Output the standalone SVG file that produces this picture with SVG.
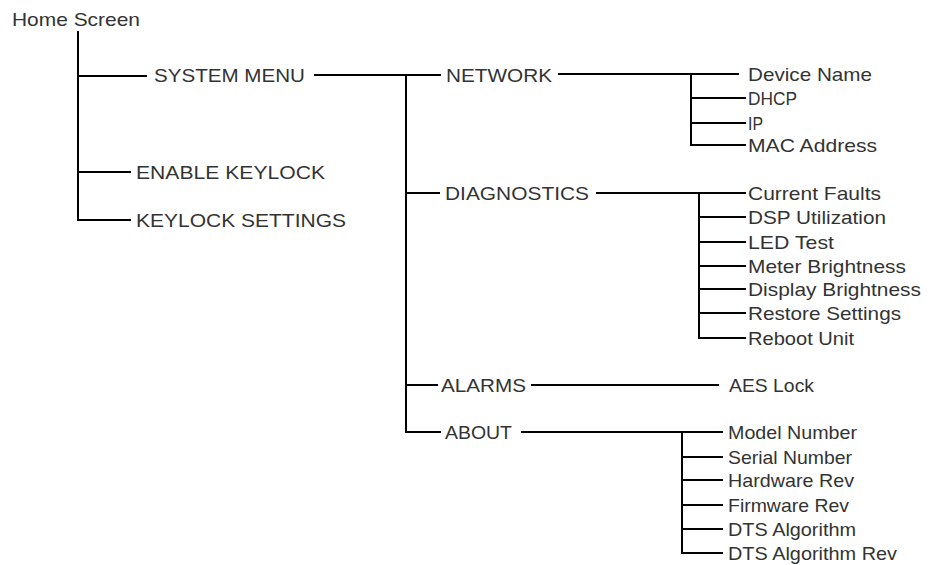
<svg xmlns="http://www.w3.org/2000/svg" width="932" height="565" viewBox="0 0 932 565">
<style>
text{font-family:"Liberation Sans",Arial,sans-serif;font-size:19px;fill:#333}
.c line{stroke:#000;stroke-width:2;stroke-linecap:square}
</style>
<rect width="932" height="565" fill="#fff"/>
<g class="c" id="connectors">
<line x1="78" y1="32" x2="78" y2="220"/>
<line x1="78" y1="76" x2="146" y2="76"/>
<line x1="78" y1="172" x2="130" y2="172"/>
<line x1="78" y1="220" x2="130" y2="220"/>
<line x1="315" y1="75" x2="440" y2="75"/>
<line x1="406" y1="75" x2="406" y2="432"/>
<line x1="406" y1="193" x2="439" y2="193"/>
<line x1="406" y1="385" x2="437" y2="385"/>
<line x1="406" y1="432" x2="440" y2="432"/>
<line x1="559" y1="74" x2="738" y2="74"/>
<line x1="691" y1="74" x2="691" y2="145"/>
<line x1="691" y1="98" x2="745" y2="98"/>
<line x1="691" y1="123" x2="745" y2="123"/>
<line x1="691" y1="145" x2="745" y2="145"/>
<line x1="597" y1="193" x2="745" y2="193"/>
<line x1="699" y1="193" x2="699" y2="338"/>
<line x1="699" y1="217" x2="745" y2="217"/>
<line x1="699" y1="242" x2="745" y2="242"/>
<line x1="699" y1="266" x2="745" y2="266"/>
<line x1="699" y1="289" x2="745" y2="289"/>
<line x1="699" y1="313" x2="745" y2="313"/>
<line x1="699" y1="338" x2="745" y2="338"/>
<line x1="532" y1="385" x2="718" y2="385"/>
<line x1="522" y1="432" x2="722" y2="432"/>
<line x1="682" y1="432" x2="682" y2="553"/>
<line x1="682" y1="457" x2="722" y2="457"/>
<line x1="682" y1="480" x2="722" y2="480"/>
<line x1="682" y1="505" x2="722" y2="505"/>
<line x1="682" y1="529" x2="722" y2="529"/>
<line x1="682" y1="553" x2="722" y2="553"/>
</g>
<g id="home"><text x="12" y="26" textLength="128" lengthAdjust="spacingAndGlyphs">Home Screen</text></g>
<g id="system-menu"><text x="154" y="82" textLength="151" lengthAdjust="spacingAndGlyphs">SYSTEM MENU</text></g>
<g id="enable-keylock"><text x="136" y="179" textLength="189" lengthAdjust="spacingAndGlyphs">ENABLE KEYLOCK</text></g>
<g id="keylock-settings"><text x="136" y="227" textLength="210" lengthAdjust="spacingAndGlyphs">KEYLOCK SETTINGS</text></g>
<g id="network"><text x="446" y="82" textLength="106" lengthAdjust="spacingAndGlyphs">NETWORK</text></g>
<g id="diagnostics"><text x="445" y="200" textLength="144" lengthAdjust="spacingAndGlyphs">DIAGNOSTICS</text></g>
<g id="alarms"><text x="441" y="392" textLength="85" lengthAdjust="spacingAndGlyphs">ALARMS</text></g>
<g id="about"><text x="445" y="439" textLength="67" lengthAdjust="spacingAndGlyphs">ABOUT</text></g>
<g id="device-name"><text x="748" y="81" textLength="124" lengthAdjust="spacingAndGlyphs">Device Name</text></g>
<g id="dhcp"><text x="748" y="105" textLength="49" lengthAdjust="spacingAndGlyphs">DHCP</text></g>
<g id="ip"><text x="748" y="130" textLength="15" lengthAdjust="spacingAndGlyphs">IP</text></g>
<g id="mac"><text x="748" y="152" textLength="129" lengthAdjust="spacingAndGlyphs">MAC Address</text></g>
<g id="current-faults"><text x="748" y="200" textLength="133" lengthAdjust="spacingAndGlyphs">Current Faults</text></g>
<g id="dsp"><text x="748" y="224" textLength="138" lengthAdjust="spacingAndGlyphs">DSP Utilization</text></g>
<g id="led"><text x="748" y="249" textLength="86" lengthAdjust="spacingAndGlyphs">LED Test</text></g>
<g id="meter"><text x="748" y="273" textLength="158" lengthAdjust="spacingAndGlyphs">Meter Brightness</text></g>
<g id="display"><text x="748" y="296" textLength="173" lengthAdjust="spacingAndGlyphs">Display Brightness</text></g>
<g id="restore"><text x="748" y="320" textLength="153" lengthAdjust="spacingAndGlyphs">Restore Settings</text></g>
<g id="reboot"><text x="748" y="345" textLength="106" lengthAdjust="spacingAndGlyphs">Reboot Unit</text></g>
<g id="aes"><text x="729" y="392" textLength="85" lengthAdjust="spacingAndGlyphs">AES Lock</text></g>
<g id="model"><text x="728" y="439" textLength="129" lengthAdjust="spacingAndGlyphs">Model Number</text></g>
<g id="serial"><text x="728" y="464" textLength="124" lengthAdjust="spacingAndGlyphs">Serial Number</text></g>
<g id="hardware"><text x="728" y="487" textLength="126" lengthAdjust="spacingAndGlyphs">Hardware Rev</text></g>
<g id="firmware"><text x="728" y="512" textLength="121" lengthAdjust="spacingAndGlyphs">Firmware Rev</text></g>
<g id="dts"><text x="728" y="536" textLength="128" lengthAdjust="spacingAndGlyphs">DTS Algorithm</text></g>
<g id="dts-rev"><text x="728" y="560" textLength="169" lengthAdjust="spacingAndGlyphs">DTS Algorithm Rev</text></g>
</svg>
